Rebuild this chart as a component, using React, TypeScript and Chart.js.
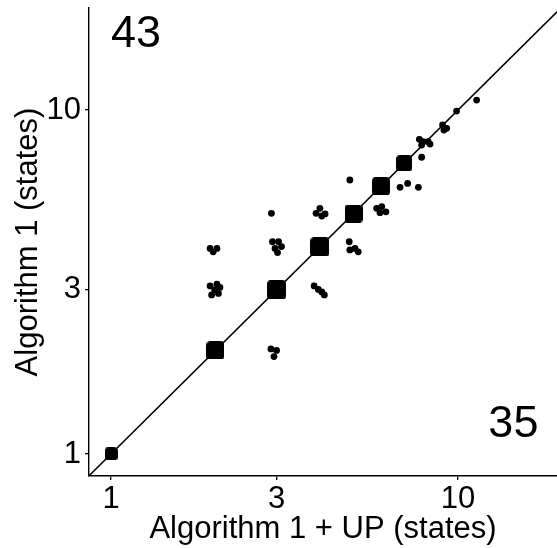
import React, { useEffect, useRef } from "react";
import { Chart, registerables } from "chart.js";

Chart.register(...registerables);

// ---- data ----
const tickValues = [1, 3, 10];
const xTitle = "Algorithm 1 + UP (states)";
const yTitle = "Algorithm 1 (states)";

// tied runs on the diagonal (many overlapping jittered points)
const diagonalLevels = [1, 2, 3, 4, 5, 6, 7];

// individual jittered runs off/near the diagonal (x = Algorithm 1 + UP, y = Algorithm 1)
const pointsX = [
  1.93, 2.02, 1.97,
  1.93, 2.02, 2.06, 1.95, 2.04, 1.99,
  2.92, 3.04, 3.10, 2.97, 3.02,
  2.89, 3.00, 2.95,
  2.90,
  4.00, 3.90, 4.05, 4.14,
  3.85, 3.96, 4.05, 4.12,
  4.86, 4.88, 5.05, 5.16,
  5.83, 6.03, 6.20, 5.96,
  4.88,
  6.81, 7.16, 7.69,
  7.86,
  7.74, 7.86, 8.21, 8.31, 7.94,
  9.03, 9.28, 9.11,
  9.91,
  11.32,
];
const pointsY = [
  3.96, 3.96, 3.87,
  3.08, 3.12, 3.05, 2.90, 2.93, 3.00,
  4.14, 4.14, 4.01, 3.96, 3.85,
  2.02, 2.00, 1.92,
  5.01,
  5.18, 5.01, 4.92, 4.99,
  3.08, 3.01, 2.96, 2.90,
  4.14, 3.92, 3.96, 3.87,
  5.18, 5.24, 5.06, 5.03,
  6.26,
  5.96, 6.12, 5.96,
  7.29,
  8.22, 7.91, 8.09, 7.96, 8.09,
  9.05, 8.85, 8.75,
  9.93,
  10.69,
];

// reference line y = x
const identityLine = [0.5, 40];

// counts shown in the corners
const cornerTexts = ["43", "35"];
const cornerX = [1.18, 14.45];
const cornerY = [15.25, 1.12];

// ---- styles ----
const FONT = '"Liberation Sans", Arial, Helvetica, sans-serif';
const squareSides = [13, 18, 19, 19, 18, 18, 16];

function makeSquare(side: number): HTMLCanvasElement {
  const c = document.createElement("canvas");
  const s = Math.round(side);
  c.width = s;
  c.height = s;
  const g = c.getContext("2d")!;
  g.fillStyle = "#000";
  g.beginPath();
  (g as any).roundRect(0, 0, s, s, 3.6);
  g.fill();
  return c;
}

function noScalePadding(scale: any) {
  scale.paddingTop = 0;
  scale.paddingBottom = 0;
  scale.paddingLeft = 0;
  scale.paddingRight = 0;
}

const cornerPlugin = {
  id: "cornerText",
  afterDatasetsDraw(chart: any) {
    const { ctx, scales } = chart;
    ctx.save();
    ctx.fillStyle = "#000";
    ctx.font = `45px ${FONT}`;
    ctx.textAlign = "center";
    ctx.textBaseline = "alphabetic";
    cornerTexts.forEach((t, i) => {
      ctx.fillText(
        t,
        scales.x.getPixelForValue(cornerX[i]),
        scales.y.getPixelForValue(cornerY[i])
      );
    });
    ctx.restore();
  },
};

export default function App() {
  const ref = useRef<HTMLCanvasElement | null>(null);

  useEffect(() => {
    if (!ref.current) return;
    const squares = squareSides.map(makeSquare);
    const chart = new Chart(ref.current, {
      type: "scatter",
      data: {
        datasets: [
          {
            label: "identity",
            data: identityLine.map((v) => ({ x: v, y: v })),
            showLine: true,
            borderColor: "#000",
            borderWidth: 1.5,
            pointRadius: 0,
            order: 3,
          } as any,
          {
            label: "ties",
            data: diagonalLevels.map((v) => ({ x: v, y: v })),
            pointStyle: squares as any,
            pointRadius: 9,
            backgroundColor: "#000",
            borderWidth: 0,
            order: 2,
          } as any,
          {
            label: "runs",
            data: pointsX.map((x, i) => ({ x, y: pointsY[i] })),
            pointRadius: 3.4,
            backgroundColor: "#000",
            borderWidth: 0,
            order: 1,
          },
        ],
      },
      options: {
        animation: false,
        responsive: false,
        maintainAspectRatio: false,
        layout: { autoPadding: false, padding: { top: 8, right: 0, left: 0, bottom: 0 } },
        plugins: {
          legend: { display: false },
          tooltip: { enabled: false },
        },
        scales: {
          x: {
            type: "logarithmic",
            position: "bottom",
            min: 0.864,
            max: 19.3,
            afterBuildTicks: (scale: any) => {
              scale.ticks = tickValues.map((value) => ({ value }));
            },
            afterFit: (scale: any) => {
              scale.height = 72;
              noScalePadding(scale);
            },
            ticks: {
              callback: (v: any) => String(v),
              color: "#000",
              font: { family: FONT, size: 31 },
              padding: 1,
              maxRotation: 0,
              autoSkip: false,
            },
            grid: {
              drawOnChartArea: false,
              drawTicks: true,
              tickLength: 4,
              color: "#000",
              lineWidth: 1.3,
            },
            border: { display: true, color: "#000", width: 1.4 },
            title: {
              display: true,
              text: xTitle,
              color: "#000",
              font: { family: FONT, size: 31 },
              padding: { top: 0, bottom: 0 },
            },
          },
          y: {
            type: "logarithmic",
            position: "left",
            min: 0.863,
            max: 19.8,
            afterBuildTicks: (scale: any) => {
              scale.ticks = tickValues.map((value) => ({ value }));
            },
            afterFit: (scale: any) => {
              scale.width = 89;
              noScalePadding(scale);
            },
            ticks: {
              callback: (v: any) => String(v),
              color: "#000",
              font: { family: FONT, size: 31 },
              padding: 4,
              autoSkip: false,
            },
            grid: {
              drawOnChartArea: false,
              drawTicks: true,
              tickLength: 4,
              color: "#000",
              lineWidth: 1.3,
            },
            border: { display: true, color: "#000", width: 1.4 },
            title: {
              display: true,
              text: yTitle,
              color: "#000",
              font: { family: FONT, size: 31 },
              padding: { top: 10, bottom: 0 },
            },
          },
        },
      },
      plugins: [cornerPlugin],
    });
    return () => chart.destroy();
  }, []);

  return (
    <div style={{ position: "absolute", left: 0, top: 0, width: 557, height: 548, background: "#fff" }}>
      <canvas ref={ref} width={557} height={548} style={{ display: "block", width: 557, height: 548 }} />
    </div>
  );
}
